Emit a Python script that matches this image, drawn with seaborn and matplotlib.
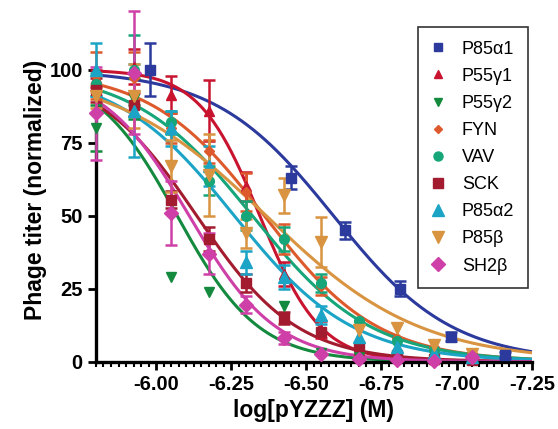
import numpy as np
import pandas as pd
import seaborn as sns
import matplotlib
matplotlib.use("Agg")
import matplotlib.pyplot as plt
from matplotlib.lines import Line2D
from matplotlib.ticker import MultipleLocator, FormatStrFormatter

# concentrations (log M) shared by most constructs
conc = [-5.80, -5.925, -6.05, -6.175, -6.30, -6.425, -6.55, -6.675, -6.80, -6.925, -7.05]
# P85a1 was run on its own dilution series
conc_p85a1 = [-5.98, -6.45, -6.63, -6.81, -6.98, -7.16]

nan = np.nan
p85a1 = [100, 63, 45, 25, 8.5, 2.4]
p85a1_err = [9, 4, 3, 2.5, 1.5, 1]

p55g1 = [97, 101, 91.5, 86, 60, 30, 11, 4, 2, 1, 3]
p55g1_err = [3, 6, 6.5, 10.5, 5, 4, 3, nan, nan, nan, nan]
p55g2 = [80, 90, 29, 24, nan, 19, 3, 1.5, 1, nan, nan]
p55g2_err = [8, 7, nan, nan, nan, nan, nan, nan, nan, nan, nan]
fyn = [98, 97, 80, 72, 58, 42, 26, 14, 8, 5, 3]
fyn_err = [8, 9, 5, 4, 6.5, 5, 3, nan, nan, nan, nan]
vav = [95, 100, 82, 62, 50, 42, 27, 14, 7, 4, 2]
vav_err = [4, 12, 4, 5, 5, 4, 3, nan, nan, nan, nan]
sck = [93, 88, 55.5, 42, 27, 15, 10, 5.5, 2.4, 1, 0.5]
sck_err = [4, 4, 3, 4, 3, 2, nan, nan, nan, nan, nan]
p85a2 = [100, 86, 80, 67, 34, 29, 16, 8.5, 5, 3, 1.5]
p85a2_err = [9, 16, 6, 7, 4, 4, 3, nan, nan, nan, nan]
p85b = [91, 91, 67, 64, 44, 57, 41, 11, 11.5, 5.8, 2.7]
p85b_err = [4, 11, 9, 14, 5, 6, 8.5, nan, nan, nan, nan]
sh2b = [85, 99, 51, 37, 19.5, 8, 2.5, 1, 0.5, 0.3, 1.7]
sh2b_err = [16, 21, 11, 7, 3, 2, nan, nan, nan, nan, nan]

labels = ["P85\u03b11", "P55\u03b31", "P55\u03b32", "FYN", "VAV", "SCK",
          "P85\u03b12", "P85\u03b2", "SH2\u03b2"]
# fitted dose-response parameters (logEC50, Hill slope)
log_ec50 = [-6.59, -6.345, -6.07, -6.36, -6.32, -6.135, -6.26, -6.366, -6.11]
hill = [2.2, 4.3, 3.2, 2.3, 2.2, 2.6, 2.2, 1.7, 3.0]

colors = ["#2B3A9C", "#C8142F", "#138A3E", "#DD5A2C", "#17A67A", "#A31B2E",
          "#1CA4C6", "#D99441", "#CE40A7"]
markers = ["s", "^", "v", "D", "o", "s", "^", "v", "D"]
msizes = [7, 6.5, 6.5, 5, 7, 7, 8.5, 8.5, 7.5]
leg_sizes = [6, 6, 6, 4.5, 6.5, 6.5, 9, 9, 7.5]

ys = [p85a1, p55g1, p55g2, fyn, vav, sck, p85a2, p85b, sh2b]
errs = [p85a1_err, p55g1_err, p55g2_err, fyn_err, vav_err, sck_err,
        p85a2_err, p85b_err, sh2b_err]
xs = [conc_p85a1] + [conc] * 8

sns.set_style("ticks")
plt.rcParams["font.family"] = ["Liberation Sans", "DejaVu Sans"]
plt.rcParams["axes.unicode_minus"] = False
plt.rcParams["text.color"] = "black"
plt.rcParams["axes.labelcolor"] = "black"
plt.rcParams["xtick.color"] = "black"
plt.rcParams["ytick.color"] = "black"
plt.rcParams["axes.edgecolor"] = "black"

fig = plt.figure(figsize=(5.58, 4.29), dpi=100)
ax = fig.add_axes([0.172, 0.157, 0.781, 0.803])

# fitted curves
xfit = np.linspace(-5.8, -7.25, 300)
rows = []
for lab, ec, h in zip(labels, log_ec50, hill):
    yfit = 100 / (1 + 10 ** ((ec - xfit) * h))
    rows.append(pd.DataFrame({"x": xfit, "y": yfit, "construct": lab}))
fits = pd.concat(rows)
sns.lineplot(data=fits, x="x", y="y", hue="construct", hue_order=labels,
             palette=colors, linewidth=2.2, legend=False, ax=ax, sort=False)

# data points with error bars
for x, y, e, c, m, ms in zip(xs, ys, errs, colors, markers, msizes):
    x = np.array(x, float)
    y = np.array(y, float)
    e = np.array(e, float)
    ok = ~np.isnan(y)
    ax.errorbar(x[ok], y[ok], yerr=e[ok], fmt=m, color=c, ms=ms, mec=c,
                elinewidth=1.8, capsize=4.5, capthick=1.8, clip_on=False, zorder=3)

ax.set_xlim(-5.8, -7.25)
ax.set_ylim(0, 118)
ax.spines["left"].set_bounds(0, 100)
for side in ["left", "bottom"]:
    ax.spines[side].set_linewidth(2.4)
    ax.spines[side].set_color("black")
sns.despine(ax=ax)

ax.set_xticks([-6.0, -6.25, -6.5, -6.75, -7.0, -7.25])
ax.xaxis.set_major_formatter(FormatStrFormatter("%.2f"))
ax.xaxis.set_minor_locator(MultipleLocator(0.025))
ax.set_yticks([0, 25, 50, 75, 100])
ax.tick_params(axis="both", which="major", length=6, width=2, labelsize=14.5,
               color="black", labelcolor="black")
ax.tick_params(axis="x", which="minor", length=3.5, width=1.5, color="black")
for t in ax.get_xticklabels() + ax.get_yticklabels():
    t.set_fontweight("bold")

ax.set_xlabel("log[pYZZZ] (M)", fontsize=16.5, fontweight="bold", labelpad=4)
ax.set_ylabel("Phage titer (normalized)", fontsize=16.5, fontweight="bold", labelpad=2)

handles = [Line2D([], [], linestyle="none", marker=m, color=c, ms=s)
           for m, c, s in zip(markers, colors, leg_sizes)]
leg = ax.legend(handles, labels, loc="upper right", bbox_to_anchor=(0.991, 0.971),
                fontsize=13, frameon=True, fancybox=False, edgecolor="black",
                labelspacing=0.56, handlelength=0.8, handletextpad=0.9,
                borderpad=0.75, borderaxespad=0)
leg.get_frame().set_linewidth(1.2)

fig.savefig("out.png", dpi=100)
